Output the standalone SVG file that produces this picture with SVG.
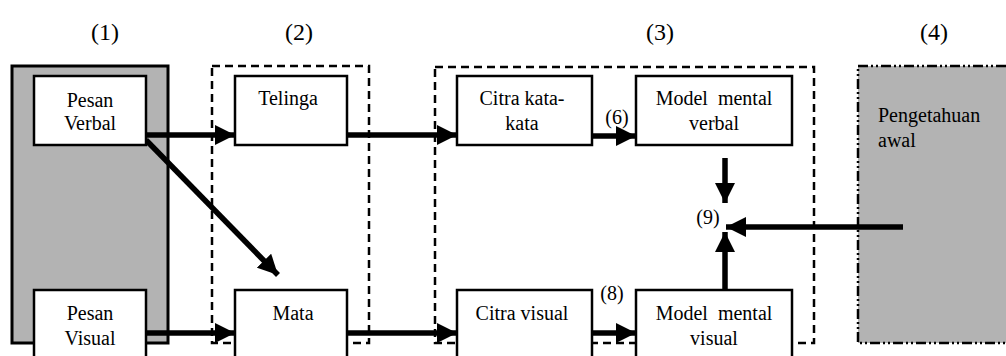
<svg xmlns="http://www.w3.org/2000/svg" width="1006" height="356" viewBox="0 0 1006 356" font-family="'Liberation Serif', 'Times New Roman', serif">
<style>
text{font-family:'Liberation Serif','Times New Roman',serif;fill:#000;font-size:20px}
.hd{font-size:24px;text-anchor:middle}
.c{text-anchor:middle}
.node{fill:#fff;stroke:#000;stroke-width:2.5}
.grp{fill:none;stroke:#000;stroke-width:2.5;stroke-dasharray:8 5}
.conn{stroke:#000;stroke-width:5.5;fill:none;marker-end:url(#ah)}
</style>
<defs>
<marker id="ah" markerUnits="userSpaceOnUse" markerWidth="22" markerHeight="20" refX="20" refY="10" orient="auto">
<path d="M0,0 L20,10 L0,20 Z" fill="#000"/>
</marker>
</defs>
<g id="headers">
<text class="hd" x="105" y="40">(1)</text>
<text class="hd" x="299" y="40">(2)</text>
<text class="hd" x="660" y="40">(3)</text>
<text class="hd" x="934" y="40">(4)</text>
</g>
<g id="group1"><rect x="12" y="66" width="156" height="277" fill="#b3b3b3" stroke="#000" stroke-width="3"/></g>
<g id="group2"><rect class="grp" x="212" y="66" width="157" height="277"/></g>
<g id="group3"><rect class="grp" x="435" y="67" width="379" height="276"/></g>
<g id="group4"><rect x="858" y="66" width="160" height="277" fill="#b3b3b3" stroke="#000" stroke-width="2.5" stroke-dasharray="10 3 2 3 2 3"/>
<text x="878" y="122">Pengetahuan</text><text x="878" y="147">awal</text></g>
<g id="connectors">
<line class="conn" x1="146" y1="135" x2="235" y2="135"/>
<line class="conn" x1="146" y1="140" x2="278" y2="275"/>
<line class="conn" x1="146" y1="333" x2="235" y2="333"/>
<line class="conn" x1="347" y1="135" x2="457" y2="135"/>
<line class="conn" x1="347" y1="333" x2="457" y2="333"/>
<line class="conn" x1="592" y1="136" x2="636" y2="136"/>
<line class="conn" x1="592" y1="333" x2="636" y2="333"/>
<line class="conn" x1="725" y1="158" x2="725" y2="203"/>
<line class="conn" x1="725" y1="290" x2="725" y2="232"/>
<line class="conn" x1="903" y1="227" x2="726" y2="227"/>
<text class="c" x="617" y="124">(6)</text>
<text class="c" x="612" y="300">(8)</text>
<text class="c" x="708" y="224">(9)</text>
</g>
<g id="pesan-verbal"><rect class="node" x="34" y="76" width="112" height="69"/><text class="c" x="90" y="107">Pesan</text><text class="c" x="90" y="130">Verbal</text></g>
<g id="pesan-visual"><rect class="node" x="34" y="290" width="112" height="80"/><text class="c" x="90" y="320">Pesan</text><text class="c" x="90" y="345">Visual</text></g>
<g id="telinga"><rect class="node" x="235" y="76" width="112" height="69"/><text class="c" x="288" y="105">Telinga</text></g>
<g id="mata"><rect class="node" x="235" y="290" width="112" height="80"/><text class="c" x="293" y="320">Mata</text></g>
<g id="citra-kata"><rect class="node" x="457" y="76" width="135" height="69"/><text class="c" x="522" y="105">Citra kata-</text><text class="c" x="522" y="130">kata</text></g>
<g id="citra-visual"><rect class="node" x="457" y="290" width="135" height="80"/><text class="c" x="522" y="320">Citra visual</text></g>
<g id="model-verbal"><rect class="node" x="636" y="76" width="156" height="69"/><text class="c" x="714" y="105" xml:space="preserve">Model  mental</text><text class="c" x="714" y="130">verbal</text></g>
<g id="model-visual"><rect class="node" x="636" y="290" width="156" height="80"/><text class="c" x="714" y="320" xml:space="preserve">Model  mental</text><text class="c" x="714" y="345">visual</text></g>
</svg>
